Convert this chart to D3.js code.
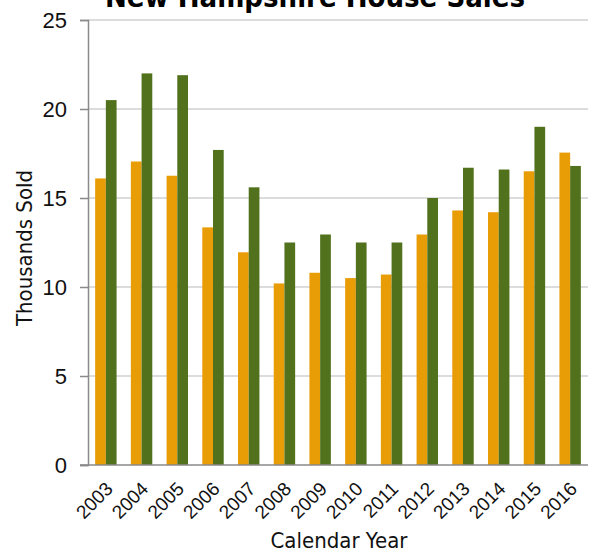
<!DOCTYPE html>
<html>
<head>
<meta charset="utf-8">
<script src="https://cdn.jsdelivr.net/npm/d3@7"></script>
<style>
  html, body { margin: 0; padding: 0; background: #fff; }
  svg { display: block; font-family: "DejaVu Sans Condensed", "DejaVu Sans", sans-serif; }
</style>
</head>
<body>
<svg id="chart" width="591" height="552"></svg>
<script>
// Annual house sales in New Hampshire, thousands of units
const years = ["2003","2004","2005","2006","2007","2008","2009","2010","2011","2012","2013","2014","2015","2016"];
const seriesOrange = [16.1, 17.05, 16.25, 13.35, 11.95, 10.2, 10.8, 10.5, 10.7, 12.95, 14.3, 14.2, 16.5, 17.55];
const seriesGreen  = [20.5, 22.0, 21.9, 17.7, 15.6, 12.5, 12.95, 12.5, 12.5, 15.0, 16.7, 16.6, 19.0, 16.8];
const yTicks = [0, 5, 10, 15, 20, 25];
const seriesKeys = ["orange", "green"];
const seriesColors = { orange: "#E89C06", green: "#51711C" };

const rows = years.map((y, i) => ({ year: y, orange: seriesOrange[i], green: seriesGreen[i] }));

const svg = d3.select("#chart");
const margin = { top: 20, right: 3, bottom: 87, left: 88 };
const W = +svg.attr("width"), H = +svg.attr("height");
const innerW = W - margin.left - margin.right;
const innerH = H - margin.top - margin.bottom;

const x = d3.scaleBand().domain(years).range([0, innerW]).paddingInner(0.4).paddingOuter(0.2);
const xs = d3.scaleBand().domain(seriesKeys).range([0, x.bandwidth()]);
const y = d3.scaleLinear().domain([0, 25]).range([innerH, 0]);

const g = svg.append("g").attr("transform", `translate(${margin.left},${margin.top})`);

// horizontal gridlines
g.append("g")
  .selectAll("line")
  .data(yTicks.filter(t => t > 0))
  .join("line")
  .attr("x1", 0).attr("x2", innerW)
  .attr("y1", d => y(d)).attr("y2", d => y(d))
  .attr("stroke", "#dcdcdc").attr("stroke-width", 2);

// bars
g.append("g")
  .selectAll("g")
  .data(rows)
  .join("g")
  .attr("transform", d => `translate(${x(d.year)},0)`)
  .selectAll("rect")
  .data(d => seriesKeys.map(k => ({ key: k, value: d[k] })))
  .join("rect")
  .attr("x", d => xs(d.key))
  .attr("width", xs.bandwidth())
  .attr("y", d => y(d.value))
  .attr("height", d => innerH - y(d.value))
  .attr("fill", d => seriesColors[d.key]);

// y axis
const yAxis = g.append("g")
  .call(d3.axisLeft(y).tickValues(yTicks).tickSize(8).tickPadding(13).tickFormat(d3.format("d")));
yAxis.select(".domain").attr("stroke", "#8a8a8a").attr("stroke-width", 1.5);
yAxis.selectAll(".tick line").attr("stroke", "#8a8a8a").attr("stroke-width", 1.5);
yAxis.selectAll(".tick text").attr("font-size", 22).attr("fill", "#111");

// x axis
const xAxis = g.append("g")
  .attr("transform", `translate(0,${innerH})`)
  .call(d3.axisBottom(x).tickSize(0).tickPadding(0));
xAxis.select(".domain").attr("stroke", "#8a8a8a").attr("stroke-width", 1.5).attr("d", `M-8,0H${innerW}`);
xAxis.selectAll(".tick text")
  .attr("font-size", 19)
  .attr("fill", "#111")
  .attr("text-anchor", "end")
  .attr("y", 0)
  .attr("dy", 0)
  .attr("transform", "translate(8,25) rotate(-45)");

// axis titles
svg.append("text")
  .attr("x", 339).attr("y", 548)
  .attr("text-anchor", "middle")
  .attr("font-size", 22)
  .attr("fill", "#111")
  .text("Calendar Year");

svg.append("text")
  .attr("transform", `translate(32,248) rotate(-90)`)
  .attr("text-anchor", "middle")
  .attr("font-size", 22)
  .attr("fill", "#111")
  .text("Thousands Sold");

// chart title
svg.append("text")
  .attr("x", 315).attr("y", 7)
  .attr("text-anchor", "middle")
  .attr("font-size", 29)
  .attr("font-weight", "bold")
  .attr("fill", "#000")
  .text("New Hampshire House Sales");
</script>
</body>
</html>
